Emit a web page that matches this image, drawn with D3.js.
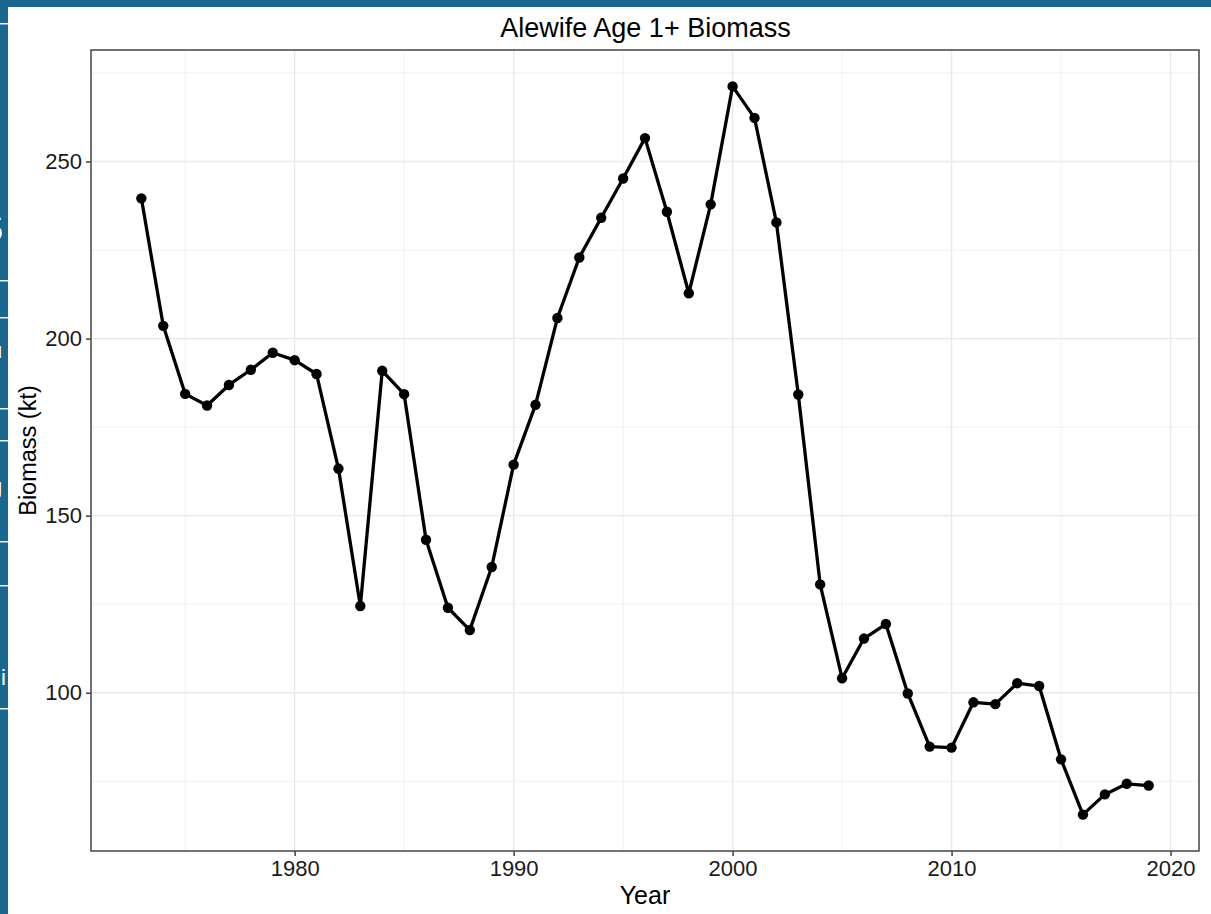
<!DOCTYPE html>
<html>
<head>
<meta charset="utf-8">
<script src="https://cdn.jsdelivr.net/npm/d3@7"></script>
<style>
  html, body { margin: 0; padding: 0; background: #ffffff; }
  svg { display: block; }
  text { font-family: "Liberation Sans", Arial, sans-serif; }
</style>
</head>
<body>
<div id="chart"></div>
<script>
// ---- data ----
const years = [1973,1974,1975,1976,1977,1978,1979,1980,1981,1982,1983,1984,1985,1986,1987,1988,1989,1990,1991,1992,1993,1994,1995,1996,1997,1998,1999,2000,2001,2002,2003,2004,2005,2006,2007,2008,2009,2010,2011,2012,2013,2014,2015,2016,2017,2018,2019];
const biomass = [239.6,203.6,184.4,181.1,186.9,191.2,196.0,193.9,190.0,163.3,124.5,190.9,184.3,143.2,124.0,117.7,135.5,164.4,181.3,205.8,222.9,234.1,245.2,256.6,235.8,212.8,237.9,271.2,262.3,232.8,184.2,130.6,104.1,115.3,119.4,99.8,84.8,84.5,97.3,96.8,102.7,101.9,81.2,65.6,71.3,74.3,73.8];
const xTicks = [1980,1990,2000,2010,2020];
const xMinor = [1975,1985,1995,2005,2015];
const yTicks = [100,150,200,250];
const yMinor = [75,125,175,225,275];
const title = "Alewife Age 1+ Biomass";
const xTitle = "Year";
const yTitle = "Biomass (kt)";

// ---- layout ----
const W = 1211, H = 914;
const panel = {left: 91, right: 1199, top: 50, bottom: 851};
const frameColor = "#19668f";

const svg = d3.select("#chart").append("svg").attr("width", W).attr("height", H);

// slide frame behind the chart
svg.append("rect").attr("x",0).attr("y",0).attr("width",W).attr("height",H).attr("fill",frameColor);
svg.append("rect").attr("x",8).attr("y",7).attr("width",W-8).attr("height",H-7).attr("fill","#ffffff");
// fragments of the slide's sidebar (white separators + clipped letters)
const side = svg.append("g");
side.append("clipPath").attr("id","sideclip").append("rect").attr("x",0).attr("y",7).attr("width",8).attr("height",H-7);
const sg = side.append("g").attr("clip-path","url(#sideclip)");
[23, 280, 317, 408, 440, 541, 585, 708].forEach(y => {
  sg.append("rect").attr("x",0).attr("y",y).attr("width",8).attr("height",1.5).attr("fill","#ffffff").attr("opacity",0.9);
});
sg.append("text").attr("x",-30).attr("y",122).attr("font-size",52).attr("font-weight","bold").attr("fill","#fff").text("o");
sg.append("text").attr("x",-28).attr("y",242).attr("font-size",58).attr("font-weight","bold").attr("fill","#fff").text("s");
sg.append("text").attr("x",-10).attr("y",358).attr("font-size",22).attr("fill","#fff").text("u");
sg.append("text").attr("x",-10).attr("y",494).attr("font-size",22).attr("fill","#fff").text("g");
sg.append("text").attr("x",1).attr("y",685).attr("font-size",22).attr("fill","#fff").text("i");

// ---- scales ----
const yMin = d3.min(biomass), yMax = d3.max(biomass);
const yPad = (yMax - yMin) * 0.05;
const xMin = d3.min(years), xMax = d3.max(years);
const xPad = (xMax - xMin) * 0.05;
const x = d3.scaleLinear().domain([xMin - xPad, xMax + xPad]).range([panel.left, panel.right]);
const y = d3.scaleLinear().domain([yMin - yPad, yMax + yPad]).range([panel.bottom, panel.top]);

// ---- grid ----
const grid = svg.append("g");
grid.selectAll(".xminor").data(xMinor).enter().append("line")
  .attr("x1", d => x(d)).attr("x2", d => x(d)).attr("y1", panel.top).attr("y2", panel.bottom)
  .attr("stroke", "#f1f1f1").attr("stroke-width", 1);
grid.selectAll(".yminor").data(yMinor).enter().append("line")
  .attr("y1", d => y(d)).attr("y2", d => y(d)).attr("x1", panel.left).attr("x2", panel.right)
  .attr("stroke", "#f1f1f1").attr("stroke-width", 1);
grid.selectAll(".xmajor").data(xTicks).enter().append("line")
  .attr("x1", d => x(d)).attr("x2", d => x(d)).attr("y1", panel.top).attr("y2", panel.bottom)
  .attr("stroke", "#e9e9e9").attr("stroke-width", 1.4);
grid.selectAll(".ymajor").data(yTicks).enter().append("line")
  .attr("y1", d => y(d)).attr("y2", d => y(d)).attr("x1", panel.left).attr("x2", panel.right)
  .attr("stroke", "#e9e9e9").attr("stroke-width", 1.4);

// ---- axes ----
const xAxis = d3.axisBottom(x).tickValues(xTicks).tickFormat(d3.format("d")).tickSize(5).tickPadding(4);
const yAxis = d3.axisLeft(y).tickValues(yTicks).tickFormat(d3.format("d")).tickSize(5).tickPadding(4);
const gx = svg.append("g").attr("transform", `translate(0,${panel.bottom})`).call(xAxis);
const gy = svg.append("g").attr("transform", `translate(${panel.left},0)`).call(yAxis);
[gx, gy].forEach(g => {
  g.select(".domain").remove();
  g.selectAll(".tick line").attr("stroke", "#333333").attr("stroke-width", 1.4);
  g.selectAll(".tick text").attr("fill", "#1a1a1a").attr("font-size", 22)
    .attr("font-family", '"Liberation Sans", Arial, sans-serif');
});

// ---- panel border ----
svg.append("rect").attr("x", panel.left).attr("y", panel.top)
  .attr("width", panel.right - panel.left).attr("height", panel.bottom - panel.top)
  .attr("fill", "none").attr("stroke", "#444444").attr("stroke-width", 1.5);

// ---- series ----
const data = years.map((yr, i) => ({year: yr, value: biomass[i]}));
const line = d3.line().x(d => x(d.year)).y(d => y(d.value));
svg.append("path").datum(data).attr("d", line)
  .attr("fill", "none").attr("stroke", "#000").attr("stroke-width", 3.3).attr("stroke-linejoin", "round");
svg.selectAll(".pt").data(data).enter().append("circle")
  .attr("cx", d => x(d.year)).attr("cy", d => y(d.value)).attr("r", 5.2).attr("fill", "#000");

// ---- titles ----
svg.append("text").attr("x", 645.5).attr("y", 37)
  .attr("text-anchor", "middle").attr("font-size", 27).attr("fill", "#000").text(title);
svg.append("text").attr("x", (panel.left + panel.right) / 2).attr("y", 904)
  .attr("text-anchor", "middle").attr("font-size", 25).attr("fill", "#000").text(xTitle);
svg.append("text").attr("transform", `translate(36,${(panel.top + panel.bottom) / 2}) rotate(-90)`)
  .attr("text-anchor", "middle").attr("font-size", 23.5).attr("fill", "#000").text(yTitle);
</script>
</body>
</html>
